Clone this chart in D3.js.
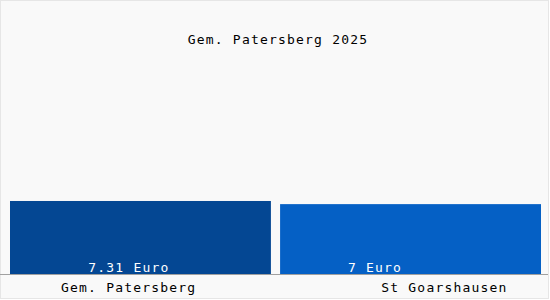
<!DOCTYPE html>
<html>
<head>
<meta charset="utf-8">
<script src="https://cdn.jsdelivr.net/npm/d3@7"></script>
<style>
  body { margin: 0; background: #ffffff; }
  text { font-family: "DejaVu Sans Mono", monospace; font-size: 13px; letter-spacing: 1.2px; }
</style>
</head>
<body>
<div id="chart"></div>
<script>
const Width = 550;
const Height = 300;

const title = "Gem. Patersberg 2025";
const categories = ["Gem. Patersberg", "St Goarshausen"];
const values = [7.31, 7];
const valueLabels = ["7.31 Euro", "7 Euro"];
const colors = ["#044793", "#0560c5"];

const svg = d3.select("#chart").append("svg").attr("width", Width).attr("height", Height);

// hintergrund
svg.append("rect")
    .attr("x", 0.5).attr("y", 0.5)
    .attr("width", Width - 2).attr("height", Height - 2)
    .attr("fill", "#f9f9f9")
    .attr("stroke", "#e6e6e6");

const x = d3.scaleBand()
    .domain(categories)
    .range([10, 541])
    .paddingInner(0.034);

const y = d3.scaleLinear()
    .domain([0, 24])
    .range([275, 32]);

const bw = x.bandwidth();

svg.selectAll("rect.bar")
    .data(values)
    .join("rect")
    .attr("class", "bar")
    .attr("x", (d, i) => x(categories[i]))
    .attr("y", d => y(d))
    .attr("width", bw)
    .attr("height", d => y(0) - y(d))
    .attr("fill", (d, i) => colors[i]);

// achse
svg.append("line")
    .attr("x1", 0).attr("x2", Width - 2)
    .attr("y1", y(0) - 0.5).attr("y2", y(0) - 0.5)
    .attr("stroke", "#a0a0a0");

// werte
svg.selectAll("text.val")
    .data(valueLabels)
    .join("text")
    .attr("class", "val")
    .attr("x", (d, i) => x(categories[i]) + bw * (i === 0 ? 0.3 : 0.26))
    .attr("y", y(0) - 3)
    .attr("fill", "white")
    .text(d => d);

// kategorien
svg.selectAll("text.cat")
    .data(categories)
    .join("text")
    .attr("class", "cat")
    .attr("x", (d, i) => x(d) + bw / 2 + (i === 0 ? -0.045 : 0.13) * bw)
    .attr("y", 292)
    .attr("text-anchor", "middle")
    .attr("fill", "black")
    .text(d => d);

svg.append("text")
    .attr("x", Width / 2 + 3)
    .attr("y", 44)
    .attr("text-anchor", "middle")
    .attr("fill", "black")
    .text(title);
</script>
</body>
</html>
